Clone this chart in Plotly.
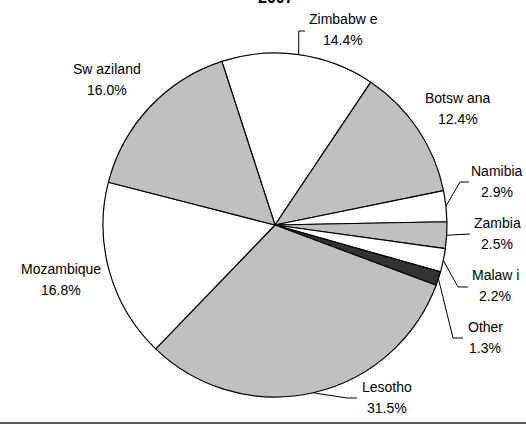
import math
import plotly.graph_objects as go

# ---- data ----
countries = ["Zimbabw e", "Botsw ana", "Namibia", "Zambia", "Malaw i", "Other",
             "Lesotho", "Mozambique", "Sw aziland"]
shares = [14.4, 12.4, 2.9, 2.5, 2.2, 1.3, 31.5, 16.8, 16.0]
slice_colors = ["#FFFFFF", "#C0C0C0", "#FFFFFF", "#C0C0C0", "#FFFFFF", "#333333",
                "#C0C0C0", "#FFFFFF", "#C0C0C0"]
title_text = "2007"

# ---- layout constants (pixels) ----
W, H = 526, 430
CX, CY, R = 275, 225, 172
ROTATION = -18
FONT = "Liberation Sans, Arial, sans-serif"
FS = 14

# label centre (x, y of first line) and leader-line elbow points
label_pos = {
    "Zimbabw e": (343, 19),
    "Botsw ana": (458, 98),
    "Namibia": (497, 171),
    "Zambia": (497, 223),
    "Malaw i": (495, 275),
    "Other": (485, 327),
    "Lesotho": (387, 387),
    "Mozambique": (61, 269),
    "Sw aziland": (107, 69),
}
leader = {
    "Zimbabw e": [(None, 31), (305, 31)],
    "Namibia": [(460, 182), (469, 182)],
    "Zambia": [(470, 234)],
    "Malaw i": [(458, 287), (468, 287)],
    "Other": [(453, 338), (463, 338)],
    "Lesotho": [(347, 398), (357, 398)],
}
LINE_GAP = 21


def px(x):
    return x / W


def py(y):
    return 1 - y / H


fig = go.Figure(go.Pie(
    labels=countries,
    values=shares,
    sort=False,
    direction="clockwise",
    rotation=ROTATION,
    marker=dict(colors=slice_colors, line=dict(color="black", width=1.2)),
    textinfo="none",
    hoverinfo="label+percent",
    showlegend=False,
    domain=dict(x=[px(CX - R), px(CX + R)], y=[py(CY + R), py(CY - R)]),
))

annotations = []
shapes = []
total = sum(shares)
cum = 0.0
for name, v in zip(countries, shares):
    mid = math.radians(ROTATION + (cum + v / 2) / total * 360)
    cum += v
    ax = CX + R * math.sin(mid)
    ay = CY - R * math.cos(mid)
    lx, ly = label_pos[name]
    annotations.append(dict(x=px(lx), y=py(ly), xref="paper", yref="paper",
                            text=name, showarrow=False, xanchor="center", yanchor="middle",
                            font=dict(family=FONT, size=FS, color="black")))
    annotations.append(dict(x=px(lx), y=py(ly + LINE_GAP), xref="paper", yref="paper",
                            text=f"{v:.1f}%", showarrow=False, xanchor="center",
                            yanchor="middle",
                            font=dict(family=FONT, size=FS, color="black")))
    if name in leader:
        pts = [(ax, ay)]
        for (ex, ey) in leader[name]:
            pts.append((ax if ex is None else ex, ey))
        path = "M " + " L ".join(f"{px(x):.5f},{py(y):.5f}" for x, y in pts)
        shapes.append(dict(type="path", path=path, xref="paper", yref="paper",
                           line=dict(color="black", width=1)))

# partially visible title
annotations.append(dict(x=px(276), y=py(-2), xref="paper", yref="paper",
                        text=f"<b>{title_text}</b>", showarrow=False,
                        xanchor="center", yanchor="middle",
                        font=dict(family=FONT, size=16, color="black")))

# bottom rule
shapes.append(dict(type="line", xref="paper", yref="paper", x0=0, x1=1,
                   y0=py(423), y1=py(423), line=dict(color="#222222", width=1.5)))

fig.update_layout(
    width=W, height=H,
    margin=dict(l=0, r=0, t=0, b=0),
    paper_bgcolor="white",
    plot_bgcolor="white",
    annotations=annotations,
    shapes=shapes,
)

fig.write_html("out.html", config={"displayModeBar": False},
               post_script="document.body.style.margin='0px';document.body.style.overflow='hidden';")
